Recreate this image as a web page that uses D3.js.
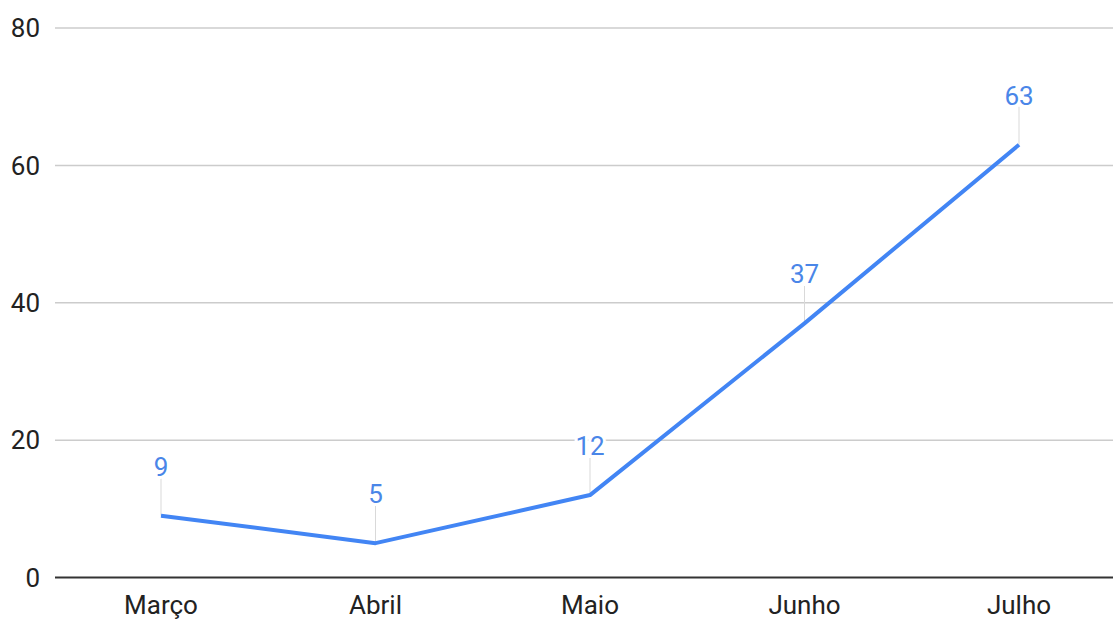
<!DOCTYPE html>
<html>
<head>
<meta charset="utf-8">
<script src="https://cdn.jsdelivr.net/npm/d3@7"></script>
<style>
  body { margin: 0; background: #fff; }
  text { font-family: Roboto, Arial, sans-serif; }
</style>
</head>
<body>
<div id="chart"></div>
<script>
// data
var months = ["Março", "Abril", "Maio", "Junho", "Julho"];
var values = [9, 5, 12, 37, 63];
var yTicks = [0, 20, 40, 60, 80];

var width = 1113, height = 619;
var plotLeft = 55, plotRight = 1113;
var fontSize = 26;

var svg = d3.select("#chart")
  .append("svg")
    .attr("width", width)
    .attr("height", height);

var x = d3.scalePoint()
  .domain(months)
  .range([161, 1019]);

var y = d3.scaleLinear()
  .domain([0, 80])
  .range([577.5, 28]);

// gridlines
svg.append("g")
  .selectAll("line")
  .data(yTicks.filter(d => d !== 0))
  .enter()
  .append("line")
    .attr("x1", plotLeft)
    .attr("x2", plotRight)
    .attr("y1", d => y(d))
    .attr("y2", d => y(d))
    .attr("stroke", "#cccccc")
    .attr("stroke-width", 1.5);

// y labels
svg.append("g")
  .selectAll("text")
  .data(yTicks)
  .enter()
  .append("text")
    .attr("x", 40)
    .attr("y", d => y(d))
    .attr("dy", "0.36em")
    .attr("text-anchor", "end")
    .attr("font-size", fontSize)
    .attr("fill", "#222")
    .text(d => d);

// x labels
svg.append("g")
  .selectAll("text")
  .data(months)
  .enter()
  .append("text")
    .attr("x", d => x(d))
    .attr("y", 614)
    .attr("text-anchor", "middle")
    .attr("font-size", fontSize)
    .attr("fill", "#222")
    .text(d => d);

var pts = months.map((m, i) => ({month: m, value: values[i]}));

// leader lines
svg.append("g")
  .selectAll("line")
  .data(pts)
  .enter()
  .append("line")
    .attr("x1", d => x(d.month))
    .attr("x2", d => x(d.month))
    .attr("y1", d => y(d.value))
    .attr("y2", d => y(d.value) - 38)
    .attr("stroke", "#d9d9d9")
    .attr("stroke-width", 1);

// the line
var line = d3.line()
  .x(d => x(d.month))
  .y(d => y(d.value));

svg.append("path")
  .datum(pts)
  .attr("d", line)
  .attr("fill", "none")
  .attr("stroke", "#4285f4")
  .attr("stroke-width", 4)
  .attr("stroke-linejoin", "round");

// baseline
svg.append("line")
  .attr("x1", plotLeft)
  .attr("x2", plotRight)
  .attr("y1", y(0))
  .attr("y2", y(0))
  .attr("stroke", "#333")
  .attr("stroke-width", 2);

// data labels with white halo
svg.append("g")
  .selectAll("text")
  .data(pts)
  .enter()
  .append("text")
    .attr("x", d => x(d.month))
    .attr("y", d => y(d.value) - 40)
    .attr("text-anchor", "middle")
    .attr("font-size", fontSize)
    .attr("fill", "#4a86e8")
    .attr("stroke", "#fff")
    .attr("stroke-width", 6)
    .attr("paint-order", "stroke")
    .text(d => d.value);
</script>
</body>
</html>
